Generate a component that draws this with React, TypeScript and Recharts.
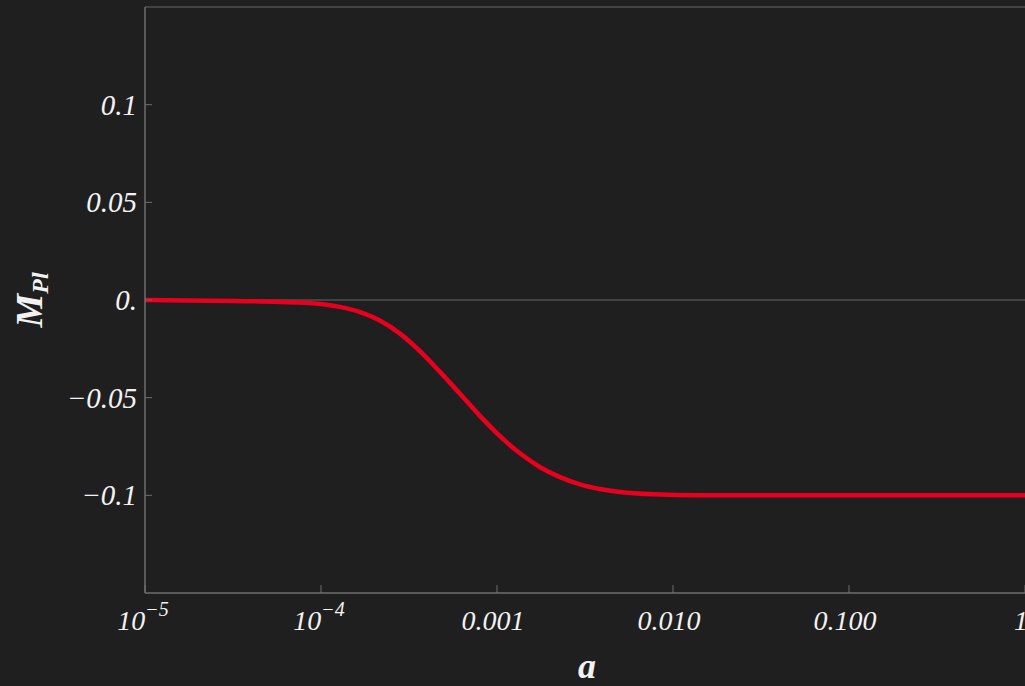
import { LineChart, Line, XAxis, YAxis, ReferenceLine } from "recharts";

// scale factor a (log axis) and the Planck-mass shift
const A_VALUES = [
  1e-5, 3.2e-5, 5.9e-5, 1e-4, 1.28e-4, 1.67e-4, 2.16e-4, 2.81e-4, 3.65e-4,
  4.74e-4, 6.16e-4, 8e-4, 1.04e-3, 1.35e-3, 1.75e-3, 2.28e-3, 2.96e-3,
  3.85e-3, 5e-3, 7.7e-3, 1.42e-2, 0.1, 1,
];
const M_PL_VALUES = [
  0, -0.0005, -0.001, -0.002, -0.0035, -0.0062, -0.0105, -0.0172, -0.0262,
  -0.0368, -0.048, -0.0593, -0.0697, -0.0785, -0.0855, -0.0907, -0.0944,
  -0.0968, -0.0983, -0.0995, -0.1, -0.1, -0.1,
];

const X_TICKS = [1e-5, 1e-4, 1e-3, 1e-2, 1e-1, 1];
const X_TICK_LABELS = ["10^−5", "10^−4", "0.001", "0.010", "0.100", "1"];
const Y_TICKS = [0.1, 0.05, 0, -0.05, -0.1];
const Y_TICK_LABELS = ["0.1", "0.05", "0.", "−0.05", "−0.1"];

const data = A_VALUES.map((a, i) => ({ a, m: M_PL_VALUES[i] }));

const BG = "#1f1f1f";
const AXIS_COLOR = "#6e6e6e";
const FRAME_COLOR = "#505050";
const TEXT = "#f2f2f2";
const FONT = "'Liberation Serif', 'DejaVu Serif', serif";

function XTick(props: any) {
  const { x, y, payload } = props;
  const idx = X_TICKS.indexOf(payload.value);
  const label = X_TICK_LABELS[idx] ?? "";
  const [base, exp] = label.split("^");
  return (
    <g>
      <line x1={x} y1={y} x2={x} y2={y - 8} stroke={AXIS_COLOR} strokeWidth={1} />
      <text
        x={exp ? x - 2 : x - 4}
        y={y + 37}
        textAnchor="middle"
        fill={TEXT}
        fontFamily={FONT}
        fontStyle="italic"
        fontSize={28}
      >
        {base}
        {exp && (
          <tspan dy={-14} fontSize={20}>
            {exp}
          </tspan>
        )}
      </text>
    </g>
  );
}

function YTick(props: any) {
  const { x, y, payload } = props;
  const idx = Y_TICKS.indexOf(payload.value);
  return (
    <g>
      <line x1={x} y1={y} x2={x + 7} y2={y} stroke={AXIS_COLOR} strokeWidth={1} />
      <text
        x={x - 8}
        y={y + 10}
        textAnchor="end"
        fill={TEXT}
        fontFamily={FONT}
        fontStyle="italic"
        fontSize={29}
      >
        {Y_TICK_LABELS[idx]}
      </text>
    </g>
  );
}

function XTitle(props: any) {
  const vb = props.viewBox || { x: 145, y: 593, width: 880 };
  return (
    <text
      x={vb.x + vb.width / 2 + 2}
      y={vb.y + 85}
      textAnchor="middle"
      fill={TEXT}
      fontFamily={FONT}
      fontStyle="italic"
      fontWeight="bold"
      fontSize={36}
    >
      a
    </text>
  );
}

function YTitle(props: any) {
  const vb = props.viewBox || { y: 7, height: 586 };
  const cx = 42;
  const cy = vb.y + vb.height / 2;
  return (
    <text
      x={cx}
      y={cy}
      transform={`rotate(-90 ${cx} ${cy})`}
      textAnchor="middle"
      fill={TEXT}
      fontFamily={FONT}
      fontStyle="italic"
      fontWeight="bold"
      fontSize={38}
    >
      M
      <tspan dy={6} fontSize={24}>
        Pl
      </tspan>
    </text>
  );
}

export default function App() {
  return (
    <div
      style={{
        position: "absolute",
        left: 0,
        top: 0,
        width: 1025,
        height: 686,
        overflow: "hidden",
        background: BG,
      }}
    >
      <LineChart
        width={1100}
        height={686}
        data={data}
        margin={{ top: 7, right: 75, bottom: 92, left: 144 }}
      >
        <XAxis
          dataKey="a"
          type="number"
          scale="log"
          domain={[1e-5, 1]}
          ticks={X_TICKS}
          allowDataOverflow
          height={1}
          tickSize={0}
          tickMargin={0}
          tickLine={false}
          axisLine={{ stroke: AXIS_COLOR, strokeWidth: 1.5 }}
          tick={<XTick />}
          interval={0}
          label={<XTitle />}
        />
        <YAxis
          type="number"
          domain={[-0.15, 0.15]}
          ticks={Y_TICKS}
          width={1}
          tickSize={0}
          tickMargin={0}
          tickLine={false}
          axisLine={{ stroke: AXIS_COLOR, strokeWidth: 1.5 }}
          tick={<YTick />}
          interval={0}
          label={<YTitle />}
        />
        <ReferenceLine y={0.15} stroke={FRAME_COLOR} strokeWidth={1.5} />
        <ReferenceLine y={0} stroke={FRAME_COLOR} strokeWidth={1.5} />
        <Line
          dataKey="m"
          type="monotone"
          stroke="#e8001e"
          strokeWidth={4.5}
          dot={false}
          activeDot={false}
          isAnimationActive={false}
        />
      </LineChart>
    </div>
  );
}
